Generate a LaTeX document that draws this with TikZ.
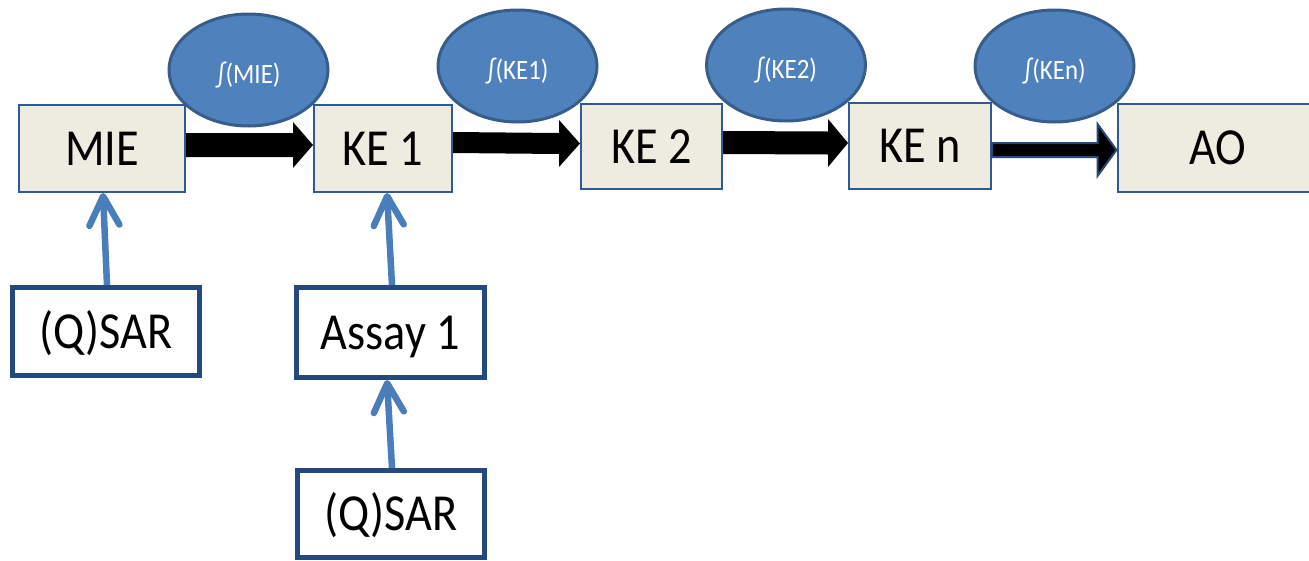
\documentclass[tikz,border=0pt]{standalone}
\usepackage{fontspec}
\setmainfont{Carlito}[FakeStretch=0.89]
\usetikzlibrary{shapes.geometric,arrows.meta,calc}
\definecolor{ellfill}{HTML}{4F81BD}
\definecolor{ellline}{HTML}{385D8A}
\definecolor{boxfill}{HTML}{EEECE1}
\definecolor{boxline}{HTML}{2F5A93}
\definecolor{darkline}{HTML}{25497F}
\definecolor{upblue}{HTML}{4A7EBB}
\newcommand\blockarr[6]{%
  \path[#1] ([shift={(0,-#4)}]#2) -- ([shift={(-#6,-#4)}]#3) -- ([shift={(-#6,-#5)}]#3) -- (#3)
    -- ([shift={(-#6,#5)}]#3) -- ([shift={(-#6,#4)}]#3) -- ([shift={(0,#4)}]#2) -- cycle;}
\begin{document}
\begin{tikzpicture}[x=1pt,y=-1pt,
  kebox/.style={draw=boxline, line width=2pt, fill=boxfill, inner sep=0pt,
    text height=33.5pt, text depth=0pt, font=\fontsize{52}{60}\selectfont},
  srcbox/.style={draw=darkline, line width=5pt, fill=white, inner sep=0pt,
    text height=33.5pt, text depth=0pt, font=\fontsize{52}{60}\selectfont},
  fn/.style={ellipse, draw=ellline, line width=3pt, fill=ellfill, inner sep=0pt,
    minimum width=159pt, minimum height=112pt, text=white,
    text height=26pt, text depth=0pt, font=\fontsize{28}{32}\selectfont},
  blockarrow/.style={fill=black},
  blockarrowb/.style={fill=black, draw=darkline, line width=2pt, line join=miter},
  uparrow/.style={draw=upblue, line width=6.5pt, -{Straight Barb[length=29pt,width=30pt,round]}}
]
\useasboundingbox (0,0) rectangle (1309,560);
\begin{scope}
\clip (0,0) rectangle (1309,560);
% top row boxes
\node[kebox, minimum width=166pt, minimum height=87pt] (mie) at (102,148.5) {MIE};
\node[kebox, minimum width=138pt, minimum height=87pt] (ke1) at (383,148.5) {KE 1};
\node[kebox, minimum width=141pt, minimum height=85pt] (ke2) at (651.5,146.5) {KE 2};
\node[kebox, minimum width=142pt, minimum height=86pt] (ken) at (920,146) {KE n};
\node[kebox, minimum width=201pt, minimum height=88pt] (ao) at (1218,148) {AO};
% source boxes
\node[srcbox, minimum width=187pt, minimum height=88pt] (qsar1) at (106,331.5) {(Q)SAR};
\node[srcbox, minimum width=188pt, minimum height=90pt] (assay) at (390.5,332.5) {Assay 1};
\node[srcbox, minimum width=187pt, minimum height=87pt] (qsar2) at (391,514) {(Q)SAR};
% block arrows
\coordinate (a1s) at ([shift={(0,-3.5)}]mie.east);
\coordinate (a1e) at ([shift={(0,-3.5)}]ke1.west);
\coordinate (a2s) at ([shift={(0,-6)}]ke1.east);
\coordinate (a2e) at ([shift={(0,-3)}]ke2.west);
\coordinate (a3s) at ([shift={(0,-4)}]ke2.east);
\coordinate (a3e) at ([shift={(0,-3)}]ken.west);
\coordinate (a4s) at ([shift={(0,4)}]ken.east);
\coordinate (a4e) at ([shift={(0,2)}]ao.west);
\blockarr{blockarrow}{a1s}{a1e}{12}{23}{20}
\blockarr{blockarrow}{a2s}{a2e}{10.5}{23.5}{21}
\blockarr{blockarrow}{a3s}{a3e}{11.5}{24}{20}
\blockarr{blockarrowb}{a4s}{a4e}{7}{26}{19}
% blue arrows
\draw[uparrow] ([xshift=1pt]qsar1.north) -- ([xshift=1pt]mie.south);
\draw[uparrow] ([xshift=1.5pt]assay.north) -- ([xshift=4pt]ke1.south);
\draw[uparrow] ([xshift=1pt]qsar2.north) -- ([xshift=-3.5pt]assay.south);
% ellipses
\node[fn] (f1) at (248.5,70) {∫(MIE)};
\node[fn] (f2) at (517.5,66) {∫(KE1)};
\node[fn] (f3) at (786,65) {∫(KE2)};
\node[fn] (f4) at (1054.5,66) {∫(KEn)};
\end{scope}
\end{tikzpicture}
\end{document}
